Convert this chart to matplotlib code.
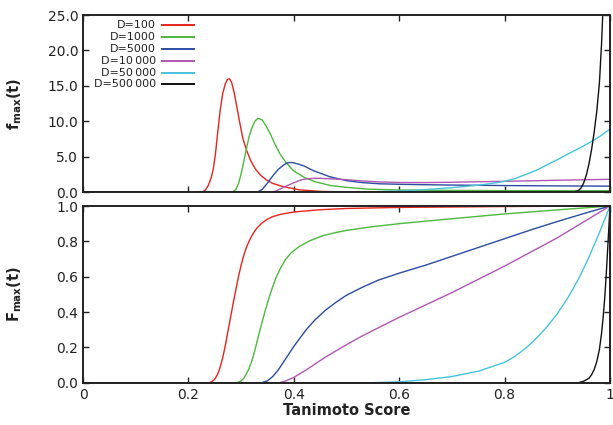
import matplotlib
matplotlib.use("Agg")
import matplotlib.pyplot as plt

plt.rcParams['font.family'] = ['DejaVu Sans']
plt.rcParams['mathtext.fontset'] = 'dejavusans'

# ---- series labels and colours ----
labels = ["D=100", "D=1000", "D=5000", "D=10\u2009000", "D=50\u2009000", "D=500\u2009000"]
colors = ["#e8231e", "#4cb93c", "#2a4ca2", "#b156b4", "#46c3dc", "#111111"]

# ---- density of the maximum score, f_max(t) ----
t_f100 = [0.0, 0.225, 0.232, 0.238, 0.243, 0.247, 0.251, 0.255, 0.26, 0.265, 0.27, 0.274,
          0.278, 0.282, 0.287, 0.292, 0.297, 0.303, 0.31, 0.318, 0.327, 0.337, 0.348, 0.36,
          0.38, 0.41, 0.45, 0.5, 0.6, 0.8, 1.0]
f_f100 = [0, 0, 0.3, 1.0, 2.0, 3.2, 5.2, 8.0, 11.4, 13.9, 15.3, 15.9,
          16.0, 15.5, 14.0, 12.0, 10.0, 7.7, 6.0, 4.5, 3.3, 2.4, 1.75, 1.25,
          0.8, 0.35, 0.13, 0.05, 0.02, 0.01, 0.01]

t_f1000 = [0.0, 0.283, 0.29, 0.295, 0.3, 0.305, 0.31, 0.315, 0.32, 0.326, 0.332, 0.34, 0.347,
           0.355, 0.363, 0.373, 0.385, 0.4, 0.42, 0.44, 0.47, 0.5, 0.54, 0.6, 0.7, 0.8, 1.0]
f_f1000 = [0, 0, 0.4, 1.2, 2.6, 4.3, 6.1, 7.8, 9.0, 10.0, 10.45, 10.2, 9.4,
           8.3, 7.0, 5.5, 4.2, 3.0, 2.1, 1.5, 0.95, 0.7, 0.45, 0.32, 0.27, 0.24, 0.22]

t_f5000 = [0.0, 0.33, 0.34, 0.35, 0.36, 0.37, 0.38, 0.386, 0.392, 0.396, 0.4, 0.41, 0.42,
           0.437, 0.45, 0.468, 0.485, 0.5, 0.531, 0.563, 0.6, 0.65, 0.7, 0.8, 0.9, 1.0]
f_f5000 = [0, 0, 0.4, 1.3, 2.3, 3.2, 3.8, 4.1, 4.2, 4.2, 4.15, 3.95, 3.7,
           3.05, 2.7, 2.2, 1.9, 1.64, 1.36, 1.2, 1.13, 1.07, 1.02, 0.95, 0.9, 0.87]

t_f10k = [0.0, 0.355, 0.365, 0.375, 0.386, 0.399, 0.41, 0.42, 0.437, 0.45, 0.47, 0.5,
          0.53, 0.56, 0.6, 0.65, 0.7, 0.8, 0.9, 1.0]
f_f10k = [0, 0, 0.15, 0.5, 0.9, 1.3, 1.65, 1.85, 1.97, 1.97, 1.9, 1.78,
          1.6, 1.47, 1.38, 1.37, 1.42, 1.55, 1.7, 1.83]

t_f50k = [0.0, 0.5, 0.55, 0.6, 0.65, 0.7, 0.75, 0.78, 0.8, 0.82, 0.84, 0.86, 0.88, 0.9,
          0.92, 0.94, 0.96, 0.98, 1.0]
f_f50k = [0, 0, 0.08, 0.2, 0.38, 0.65, 1.0, 1.3, 1.55, 1.95, 2.5, 3.1, 3.85, 4.6,
          5.4, 6.15, 6.95, 7.85, 8.9]

t_f500k = [0.0, 0.93, 0.94, 0.945, 0.95, 0.955, 0.96, 0.965, 0.97, 0.975, 0.98, 0.984, 0.987, 0.99]
f_f500k = [0, 0, 0.25, 0.6, 1.3, 2.4, 4.0, 6.0, 8.5, 11.5, 15.5, 21, 26.5, 32]

# ---- cumulative distribution of the maximum score, F_max(t) ----
t_F100 = [0.0, 0.24, 0.245, 0.25, 0.255, 0.26, 0.265, 0.27, 0.275, 0.28, 0.285, 0.29, 0.295,
          0.3, 0.305, 0.31, 0.315, 0.32, 0.325, 0.33, 0.34, 0.35, 0.36, 0.375, 0.4, 0.45,
          0.5, 0.6, 0.8, 1.0]
F_F100 = [0, 0, 0.007, 0.02, 0.045, 0.085, 0.14, 0.21, 0.29, 0.37, 0.45, 0.525, 0.60,
          0.665, 0.72, 0.765, 0.80, 0.83, 0.855, 0.875, 0.905, 0.925, 0.94, 0.953, 0.966, 0.979,
          0.986, 0.992, 0.997, 1.0]

t_F1000 = [0.0, 0.29, 0.295, 0.3, 0.305, 0.31, 0.315, 0.32, 0.325, 0.33, 0.336, 0.345, 0.355,
           0.365, 0.375, 0.385, 0.395, 0.41, 0.43, 0.455, 0.48, 0.5, 0.55, 0.6, 0.7, 0.8, 0.9, 1.0]
F_F1000 = [0, 0, 0.003, 0.01, 0.025, 0.05, 0.08, 0.12, 0.17, 0.23, 0.30, 0.40, 0.50,
           0.585, 0.65, 0.70, 0.735, 0.77, 0.803, 0.832, 0.85, 0.862, 0.883, 0.90, 0.928, 0.955, 0.978, 1.0]

t_F5000 = [0.0, 0.339, 0.35, 0.36, 0.37, 0.38, 0.39, 0.4, 0.411, 0.425, 0.44, 0.46, 0.48, 0.5,
           0.53, 0.56, 0.6, 0.65, 0.7, 0.75, 0.8, 0.85, 0.9, 0.95, 1.0]
F_F5000 = [0, 0, 0.01, 0.035, 0.07, 0.115, 0.16, 0.205, 0.25, 0.305, 0.355, 0.41, 0.455, 0.495,
           0.54, 0.58, 0.62, 0.665, 0.715, 0.765, 0.815, 0.865, 0.912, 0.957, 1.0]

t_F10k = [0.0, 0.373, 0.385, 0.4, 0.411, 0.425, 0.44, 0.46, 0.48, 0.5, 0.53, 0.56, 0.6, 0.65,
          0.7, 0.75, 0.8, 0.85, 0.9, 0.95, 1.0]
F_F10k = [0, 0, 0.01, 0.03, 0.05, 0.075, 0.105, 0.145, 0.18, 0.215, 0.265, 0.31, 0.37, 0.44,
          0.51, 0.585, 0.66, 0.74, 0.82, 0.91, 1.0]

t_F50k = [0.0, 0.55, 0.6, 0.65, 0.7, 0.75, 0.8, 0.82, 0.84, 0.86, 0.88, 0.9, 0.92, 0.94,
          0.96, 0.98, 1.0]
F_F50k = [0, 0, 0.005, 0.017, 0.035, 0.065, 0.115, 0.15, 0.195, 0.25, 0.315, 0.39, 0.48, 0.585,
          0.71, 0.85, 1.0]

t_F500k = [0.0, 0.94, 0.95, 0.96, 0.965, 0.97, 0.975, 0.98, 0.984, 0.987, 0.99, 0.993, 0.996, 1.0]
F_F500k = [0, 0, 0.008, 0.025, 0.045, 0.075, 0.12, 0.19, 0.28, 0.37, 0.48, 0.62, 0.78, 1.0]

# ---- axis ticks ----
x_ticks = [0, 0.2, 0.4, 0.6, 0.8, 1.0]
x_ticklabels = ["0", "0.2", "0.4", "0.6", "0.8", "1"]
top_yticks = [0, 5, 10, 15, 20, 25]
top_yticklabels = ["0.0", "5.0", "10.0", "15.0", "20.0", "25.0"]
bot_yticks = [0, 0.2, 0.4, 0.6, 0.8, 1.0]
bot_yticklabels = ["0.0", "0.2", "0.4", "0.6", "0.8", "1.0"]

pdf_series = [(t_f100, f_f100), (t_f1000, f_f1000), (t_f5000, f_f5000),
              (t_f10k, f_f10k), (t_f50k, f_f50k), (t_f500k, f_f500k)]
cdf_series = [(t_F100, F_F100), (t_F1000, F_F1000), (t_F5000, F_F5000),
              (t_F10k, F_F10k), (t_F50k, F_F50k), (t_F500k, F_F500k)]

W, H = 613, 425
fig = plt.figure(figsize=(W / 100, H / 100), dpi=100)

def px_rect(left, top, right, bottom):
    return [left / W, 1 - bottom / H, (right - left) / W, (bottom - top) / H]

ax_top = fig.add_axes(px_rect(83, 15, 610, 192.3))
ax_bot = fig.add_axes(px_rect(83, 206, 610, 382.7))

lw = 1.0
for (t, f), c in zip(pdf_series, colors):
    ax_top.plot(t, f, color=c, lw=lw, solid_joinstyle='round')
for (t, F), c in zip(cdf_series, colors):
    ax_bot.plot(t, F, color=c, lw=lw, solid_joinstyle='round')

tick_fs = 10
for ax in (ax_top, ax_bot):
    ax.set_xlim(0, 1)
    ax.set_xticks(x_ticks)
    ax.tick_params(direction='in', length=4, width=1.0, top=True, right=True,
                   labelsize=tick_fs, pad=3.5, colors='#222222')
    for s in ax.spines.values():
        s.set_linewidth(1.4)
        s.set_color('#222222')

ax_top.set_ylim(0, 25)
ax_top.set_yticks(top_yticks)
ax_top.set_yticklabels(top_yticklabels)
ax_top.tick_params(labelbottom=False)

ax_bot.set_ylim(0, 1)
ax_bot.set_yticks(bot_yticks)
ax_bot.set_yticklabels(bot_yticklabels)
ax_bot.set_xticklabels(x_ticklabels)

label_fs = 10.5
ax_top.set_ylabel(r'$\mathbf{f}_{\mathbf{max}}\mathbf{(t)}$', fontsize=label_fs, color='#222222')
ax_bot.set_ylabel(r'$\mathbf{F}_{\mathbf{max}}\mathbf{(t)}$', fontsize=label_fs, color='#222222')
ax_top.yaxis.set_label_coords(-0.112, 0.5)
ax_bot.yaxis.set_label_coords(-0.112, 0.5)
ax_bot.set_xlabel('Tanimoto Score', fontsize=label_fs, fontweight='bold',
                  color='#222222', labelpad=1)

# legend: right-aligned labels followed by a line sample
row0, row_step = 25.3, 11.8
for i, (lab, c) in enumerate(zip(labels, colors)):
    ypx = row0 + i * row_step
    yax = 1 - (ypx - 15) / (192.3 - 15)
    ax_top.text(0.138, yax, lab, transform=ax_top.transAxes, ha='right', va='center',
                fontsize=8, color='#222222')
    ax_top.plot([0.150, 0.211], [yax, yax], transform=ax_top.transAxes,
                color=c, lw=1.4, clip_on=False)

fig.savefig('out.png', dpi=100)
